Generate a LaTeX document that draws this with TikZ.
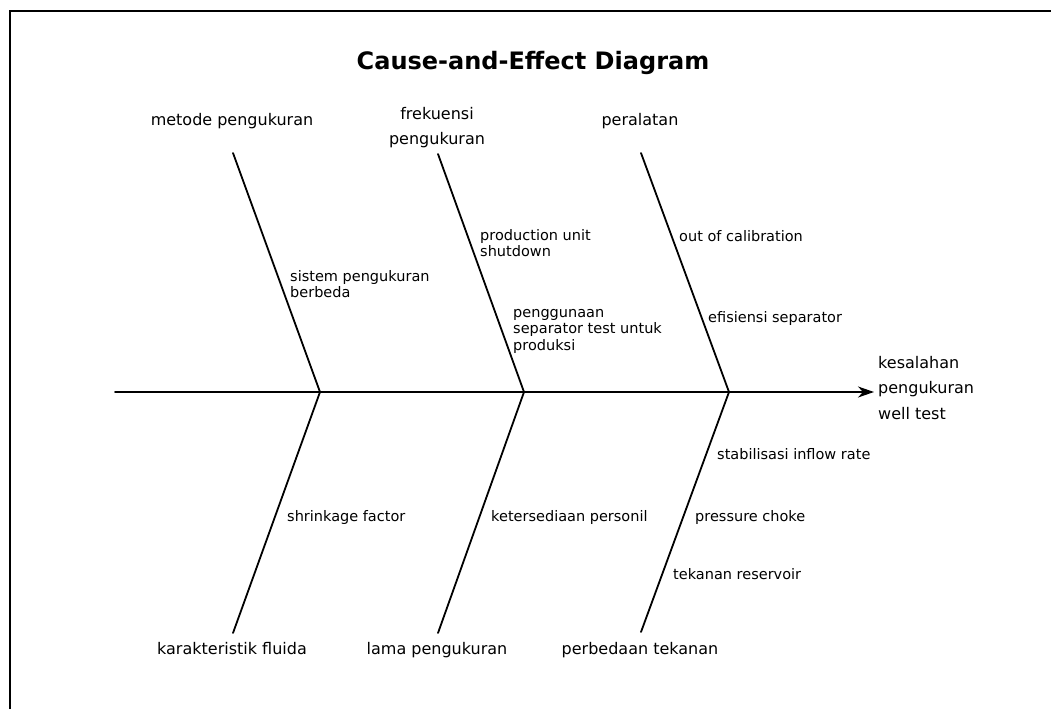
\documentclass[tikz,border=0pt]{standalone}
\usepackage{fontspec}
\setmainfont{DejaVu Sans}
\usetikzlibrary{arrows.meta}
\newcommand\cstrutx{\rule{0pt}{12pt}}
\newcommand\kstrutx{\rule{0pt}{18pt}}
\begin{document}
\begin{tikzpicture}[x=1pt,y=-1pt,
  rib/.style={line width=1.8pt, line cap=round},
  frame/.style={line width=1.8pt},
  cause/.style={font=\fontsize{14.5}{16.5}\selectfont, align=left, inner sep=0pt, anchor=north west, execute at begin node=\cstrutx},
  cat/.style={font=\fontsize{16}{25}\selectfont, align=center, inner sep=0pt, anchor=north, execute at begin node=\kstrutx},
  effect/.style={font=\fontsize{16}{25.5}\selectfont, align=left, inner sep=0pt, anchor=north west, execute at begin node=\kstrutx},
  title/.style={font=\fontsize{24}{28}\selectfont\bfseries, inner sep=0pt, anchor=base}]
\useasboundingbox (0,0) rectangle (1051,709);
\fill[white] (0,0) rectangle (1051,709);
% frame
\draw[frame] (10,709) -- (10,11) -- (1051,11);
% title
\node[title] (ttl) at (533,70) {Cause-and-Effect Diagram};
% spine and ribs
\coordinate (tail) at (115,392);
\coordinate (head) at (874,392);
\coordinate (t1) at (233,153); \coordinate (j1) at (320,392); \coordinate (b1) at (233,633);
\coordinate (t2) at (438,154); \coordinate (j2) at (524,392); \coordinate (b2) at (438,633);
\coordinate (t3) at (641,153); \coordinate (j3) at (729,392); \coordinate (b3) at (641,632);
\draw[rib, -{Stealth[length=16pt,width=11pt,inset=5pt]}] (tail) -- (head);
\draw[rib] (t1) -- (j1) -- (b1);
\draw[rib] (t2) -- (j2) -- (b2);
\draw[rib] (t3) -- (j3) -- (b3);
% categories
\node[cat] (c1) at (232,107) {metode pengukuran};
\node[cat] (c2) at (437,107) {frekuensi\\pengukuran};
\node[cat] (c3) at (640,107) {peralatan};
\node[cat] (c4) at (232,636) {karakteristik fluida};
\node[cat] (c5) at (437,636) {lama pengukuran};
\node[cat] (c6) at (640,636) {perbedaan tekanan};
% effect
\node[effect] (eff) at (878,356) {kesalahan\\pengukuran\\well test};
% causes
\node[cause] (s1) at (290,270) {sistem pengukuran\\berbeda};
\node[cause] (s2) at (480,229) {production unit\\shutdown};
\node[cause] (s3) at (513,309) {penggunaan\\separator test untuk\\produksi};
\node[cause] (s4) at (679,229) {out of calibration};
\node[cause] (s5) at (708,310) {efisiensi separator};
\node[cause] (s6) at (717,447) {stabilisasi inflow rate};
\node[cause] (s7) at (287,509) {shrinkage factor};
\node[cause] (s8) at (491,509) {ketersediaan personil};
\node[cause] (s9) at (695,509) {pressure choke};
\node[cause] (s10) at (673,567) {tekanan reservoir};
\end{tikzpicture}
\end{document}
